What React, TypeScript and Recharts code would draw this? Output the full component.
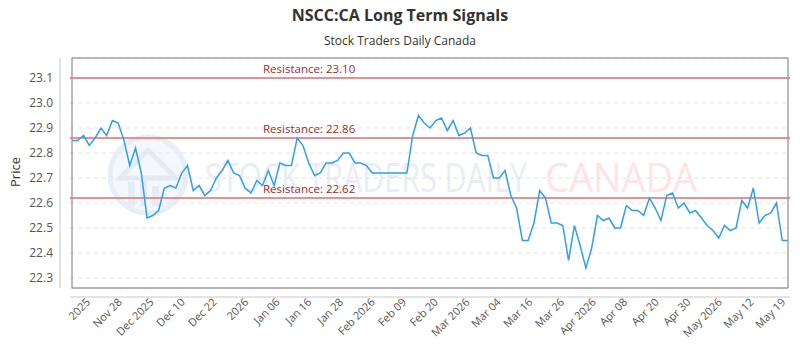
import React from "react";
import { LineChart, Line, XAxis, YAxis, CartesianGrid, ReferenceLine, ReferenceArea } from "recharts";

// closing prices, one per trading session
const PRICES = [
  22.85, 22.85, 22.87, 22.83, 22.86, 22.9, 22.87, 22.93, 22.92, 22.85, 22.75, 22.82, 22.72, 22.54, 22.55, 22.57,
  22.66, 22.67, 22.66, 22.72, 22.75, 22.65, 22.67, 22.63, 22.65, 22.7, 22.73, 22.77, 22.72, 22.71, 22.66, 22.64,
  22.69, 22.67, 22.73, 22.67, 22.76, 22.75, 22.75, 22.86, 22.83, 22.76, 22.71, 22.72, 22.76, 22.76, 22.77, 22.8,
  22.8, 22.76, 22.76, 22.75, 22.72, 22.72, 22.72, 22.72, 22.72, 22.72, 22.72, 22.87, 22.95, 22.92, 22.9, 22.93,
  22.94, 22.89, 22.93, 22.87, 22.88, 22.9, 22.8, 22.79, 22.79, 22.7, 22.7, 22.73, 22.63, 22.58, 22.45, 22.45,
  22.52, 22.65, 22.62, 22.52, 22.52, 22.51, 22.37, 22.51, 22.43, 22.34, 22.42, 22.55, 22.53, 22.54, 22.5, 22.5,
  22.59, 22.57, 22.57, 22.55, 22.62, 22.58, 22.53, 22.63, 22.64, 22.58, 22.6, 22.56, 22.57, 22.54, 22.51, 22.49,
  22.46, 22.51, 22.49, 22.5, 22.61, 22.58, 22.66, 22.52, 22.55, 22.56, 22.6, 22.45, 22.45
];

const TICK_LABELS = [
  "2025", "Nov 28", "Dec 2025", "Dec 10", "Dec 22", "2026", "Jan 06", "Jan 16", "Jan 28", "Feb 2026", "Feb 09",
  "Feb 20", "Mar 2026", "Mar 04", "Mar 16", "Mar 26", "Apr 2026", "Apr 08", "Apr 20", "Apr 30", "May 2026",
  "May 12", "May 19"
];
// where each label sits, in session index units
const TICK_POS = [
  2.8, 8.3, 13.8, 19.2, 24.7, 30.2, 35.6, 41.1, 46.6, 52.1, 57.5, 63.0, 68.5, 73.9, 79.4, 84.9, 90.4, 95.8,
  101.3, 106.8, 112.2, 117.7, 123.2
];

const Y_TICKS = [22.3, 22.4, 22.5, 22.6, 22.7, 22.8, 22.9, 23.0, 23.1];
const Y_MIN = 22.26;
const Y_MAX = 23.18;

const RESISTANCE = [23.1, 22.86, 22.62];

const data = PRICES.map((price, i) => ({ i, price }));

function XTick({ x, y, payload }: any) {
  const idx = TICK_POS.indexOf(payload.value);
  return (
    <g transform={`translate(${x},${y + 4})`}>
      <text x={0} y={0} dy={4} textAnchor="end" fill="#555" fontSize={11} transform="rotate(-45)">
        {TICK_LABELS[idx]}
      </text>
    </g>
  );
}

const resistanceLabel = (value: number) => (props: any) => {
  const { viewBox } = props;
  return (
    <text x={viewBox.x + 193} y={viewBox.y - 5} fill="#a8282c" fontSize={11.5}>
      {`Resistance: ${value.toFixed(2)}`}
    </text>
  );
};

function Watermark() {
  return (
    <svg width={800} height={350} style={{ position: "absolute", left: 0, top: 0 }}>
      <circle cx={148} cy={175} r={38} fill="#f4f7fb" stroke="#e8eef6" strokeWidth={5} />
      <path d="M120 178 L148 150 L176 178 Z" fill="none" stroke="#e4ebf4" strokeWidth={5} />
      <rect x={128} y={182} width={7} height={24} fill="#e6ecf4" />
      <rect x={140} y={176} width={7} height={30} fill="#e6ecf4" />
      <rect x={152} y={186} width={7} height={20} fill="#e6ecf4" />
      <text x={205} y={192} fontSize={40} fill="#e9eef5" textLength={322} lengthAdjust="spacingAndGlyphs">
        STOCK TRADERS DAILY
      </text>
      <text x={545} y={192} fontSize={40} fill="#fde5e5" textLength={152} lengthAdjust="spacingAndGlyphs">
        CANADA
      </text>
    </svg>
  );
}

export default function App() {
  return (
    <div
      style={{
        position: "absolute",
        left: 0,
        top: 0,
        width: 800,
        height: 350,
        background: "#fff",
        fontFamily: "'Open Sans', sans-serif",
        color: "#333"
      }}
    >
      <Watermark />
      <div style={{ position: "absolute", top: 4, width: 800, textAlign: "center", fontSize: 16, fontWeight: 700 }}>
        NSCC:CA Long Term Signals
      </div>
      <div style={{ position: "absolute", top: 32, width: 800, textAlign: "center", fontSize: 12 }}>
        Stock Traders Daily Canada
      </div>
      <div
        style={{
          position: "absolute",
          left: 15,
          top: 172,
          fontSize: 13,
          transform: "translate(-50%, -50%) rotate(-90deg)"
        }}
      >
        Price
      </div>
      <div style={{ position: "absolute", left: 0, top: 0 }}>
        <LineChart width={800} height={350} data={data} margin={{ top: 58, right: 10, bottom: 0, left: 10 }}>
          <CartesianGrid horizontal vertical={false} stroke="#e3e3e3" strokeDasharray="4 4" />
          <XAxis
            dataKey="i"
            type="number"
            domain={[0, PRICES.length - 1]}
            ticks={TICK_POS}
            interval={0}
            padding={{ left: 2, right: 2 }}
            height={62}
            tickLine={false}
            axisLine={{ stroke: "#c8c8c8", transform: "translate(0,9)" } as any}
            tick={<XTick />}
          />
          <YAxis
            type="number"
            domain={[Y_MIN, Y_MAX]}
            ticks={Y_TICKS}
            width={60}
            tickLine={false}
            tickMargin={11}
            axisLine={{ stroke: "#c8c8c8", transform: "translate(-10,0)" } as any}
            tick={{ fill: "#555", fontSize: 12 }}
            tickFormatter={(v: number) => v.toFixed(1)}
            allowDataOverflow
          />
          <ReferenceArea y1={Y_MIN} y2={Y_MAX} fill="none" stroke="#777" strokeWidth={1} ifOverflow="visible" />
          {RESISTANCE.map((r) => (
            <ReferenceLine
              key={r}
              y={r}
              stroke="#e77c7c"
              strokeOpacity={0.85}
              strokeWidth={2}
              label={resistanceLabel(r)}
            />
          ))}
          <Line
            type="linear"
            dataKey="price"
            stroke="#2f9ff5"
            strokeWidth={1.5}
            dot={false}
            isAnimationActive={false}
          />
        </LineChart>
      </div>
    </div>
  );
}
